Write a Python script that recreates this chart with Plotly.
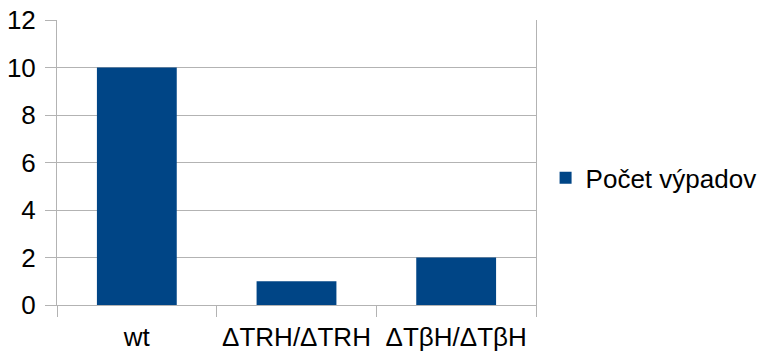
import plotly.graph_objects as go

categories = ["wt", "ΔTRH/ΔTRH", "ΔTβH/ΔTβH"]
values = [10, 1, 2]
series_name = "Počet výpadov"
y_ticks = [0, 2, 4, 6, 8, 10, 12]

FONT = "Liberation Sans, Arial, sans-serif"
GRID = "#b3b3b3"
FS = 26

fig = go.Figure()
fig.add_trace(go.Bar(x=categories, y=values, name=series_name,
                     marker=dict(color="#004586", line=dict(width=0)),
                     showlegend=True))

fig.update_layout(
    width=758, height=356,
    margin=dict(l=57, r=222, t=20, b=51, autoexpand=False),
    paper_bgcolor="white", plot_bgcolor="white",
    bargap=0.5,
    font=dict(family=FONT, size=FS, color="black"),
    showlegend=True,
    legend=dict(x=1.02, xanchor="left", y=0.446, yanchor="middle",
                font=dict(family=FONT, size=FS, color="black"),
                bgcolor="rgba(0,0,0,0)"),
    xaxis=dict(
        automargin=False,
        showgrid=False, showline=True, linecolor=GRID, linewidth=1,
        ticks="outside", ticklen=11, tickcolor=GRID, tickson="boundaries",
        ticklabelstandoff=9,
        tickfont=dict(family=FONT, size=FS, color="black"),
        mirror=False,
    ),
    yaxis=dict(
        automargin=False,
        range=[0, 12], tickvals=y_ticks, showgrid=True, gridcolor=GRID, gridwidth=1,
        showline=True, linecolor=GRID, linewidth=1, mirror=True,
        ticks="outside", ticklen=11, tickcolor=GRID,
        ticklabelstandoff=4,
        tickfont=dict(family=FONT, size=FS, color="black"),
        zeroline=False,
    ),
)

fig.write_html("out.html")
